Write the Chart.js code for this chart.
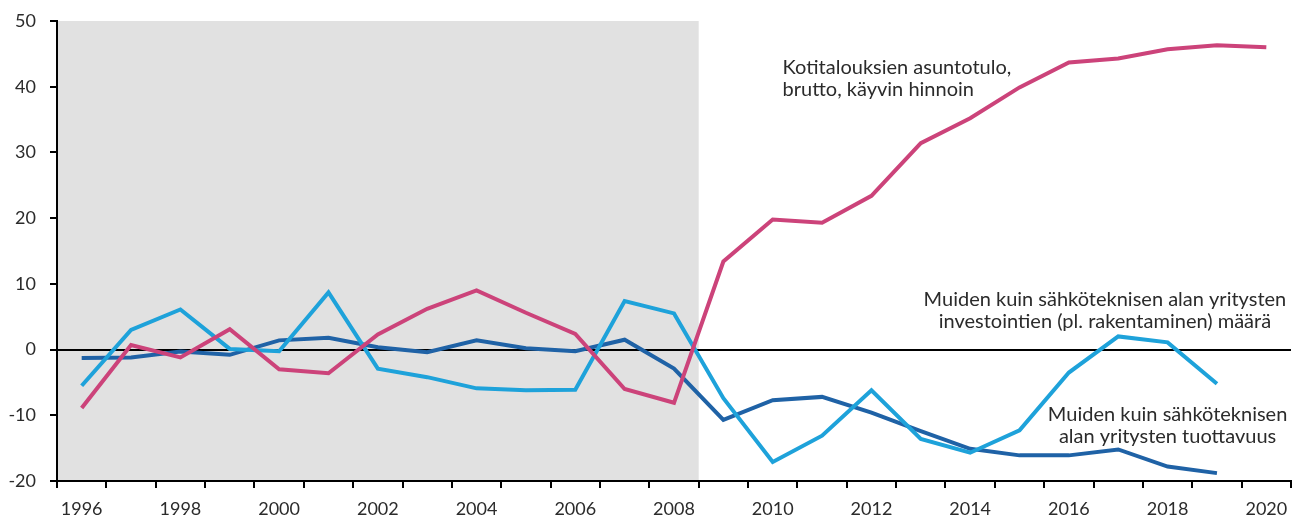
<!DOCTYPE html>
<html>
<head>
    <title>Tuottavuus, investoinnit ja asuntotulo</title>
    <script src="https://cdn.jsdelivr.net/npm/chart.js@4"></script>
    <style>
        html, body { margin: 0; padding: 0; background: #fff; }
        #wrap { width: 1306px; height: 518px; }
    </style>
</head>
<body>
<div id="wrap"><canvas id="lineChart" width="1306" height="518"></canvas></div>
<script>
    // Years on the x axis (one category per year)
    const years = ['1996', '1997', '1998', '1999', '2000', '2001', '2002', '2003', '2004', '2005', '2006', '2007', '2008',
        '2009', '2010', '2011', '2012', '2013', '2014', '2015', '2016', '2017', '2018', '2019', '2020'];

    // Kotitalouksien asuntotulo, brutto, käyvin hinnoin
    const housingIncome = [-8.9, 0.7, -1.2, 3.1, -3.0, -3.6, 2.3, 6.2, 9.0, 5.6, 2.4, -6.0, -8.1,
        13.4, 19.8, 19.3, 23.4, 31.4, 35.2, 39.9, 43.7, 44.3, 45.7, 46.3, 46.0];

    // Muiden kuin sähköteknisen alan yritysten investointien (pl. rakentaminen) määrä
    const investments = [-5.5, 3.0, 6.1, 0.1, -0.25, 8.7, -2.9, -4.2, -5.9, -6.2, -6.1, 7.4, 5.5,
        -7.4, -17.1, -13.1, -6.2, -13.6, -15.7, -12.3, -3.5, 2.0, 1.1, -5.2, null];

    // Muiden kuin sähköteknisen alan yritysten tuottavuus
    const productivity = [-1.3, -1.2, -0.3, -0.8, 1.4, 1.8, 0.35, -0.4, 1.4, 0.2, -0.25, 1.5, -2.9,
        -10.7, -7.7, -7.2, -9.6, -12.4, -15.1, -16.1, -16.1, -15.2, -17.8, -18.8, null];

    // Shaded period (through this year)
    const shadeUntil = '2008';

    // Text labels next to the lines: x is a category index, y a value on the y axis
    const notes = [
        { lines: ['Kotitalouksien asuntotulo,', 'brutto, käyvin hinnoin'], x: 14.2, y: 42.85, align: 'left' },
        { lines: ['Muiden kuin sähköteknisen alan yritysten', 'investointien (pl. rakentaminen) määrä'], x: 20.73, y: 7.55, align: 'center' },
        { lines: ['Muiden kuin sähköteknisen', 'alan yritysten tuottavuus'], x: 22.0, y: -9.95, align: 'center' },
    ];

    const FONT = 'Lato, "Open Sans", sans-serif';
    const TEXT = '#2b2b2b';

    // Grey background for the early period, drawn under everything
    const shadePlugin = {
        id: 'shade',
        beforeDraw(chart) {
            const { ctx, chartArea, scales } = chart;
            const x = scales.x;
            const idx = years.indexOf(shadeUntil);
            const right = (x.getPixelForValue(idx) + x.getPixelForValue(idx + 1)) / 2;
            ctx.save();
            ctx.fillStyle = '#e1e1e1';
            ctx.fillRect(chartArea.left, chartArea.top, right - chartArea.left, chartArea.bottom - chartArea.top);
            ctx.restore();
        }
    };

    // Series labels
    const notesPlugin = {
        id: 'notes',
        afterDatasetsDraw(chart) {
            const { ctx, scales } = chart;
            ctx.save();
            ctx.font = '20px ' + FONT;
            ctx.fillStyle = TEXT;
            ctx.textBaseline = 'middle';
            notes.forEach(n => {
                const px = scales.x.getPixelForValue(n.x);
                const py = scales.y.getPixelForValue(n.y);
                ctx.textAlign = n.align;
                n.lines.forEach((line, i) => ctx.fillText(line, px, py + i * 22));
            });
            ctx.restore();
        }
    };

    const ctx = document.getElementById('lineChart').getContext('2d');
    new Chart(ctx, {
        type: 'line',
        data: {
            labels: years,
            datasets: [
                { label: 'Asuntotulo', data: housingIncome, borderColor: '#cc437a' },
                { label: 'Investoinnit', data: investments, borderColor: '#1ea2da' },
                { label: 'Tuottavuus', data: productivity, borderColor: '#1f62a6' },
            ]
        },
        options: {
            animation: false,
            responsive: false,
            elements: {
                line: { borderWidth: 4, tension: 0, borderCapStyle: 'butt', borderJoinStyle: 'miter' },
                point: { radius: 0 }
            },
            layout: { padding: { top: 21, right: 15, left: 0, bottom: 0 } },
            plugins: {
                legend: { display: false },
                tooltip: { enabled: false }
            },
            scales: {
                x: {
                    type: 'category',
                    offset: true,
                    border: { color: '#000', width: 2 },
                    grid: {
                        offset: true,
                        drawOnChartArea: false,
                        drawTicks: true,
                        tickLength: 7,
                        tickColor: '#000',
                        lineWidth: 2
                    },
                    ticks: {
                        autoSkip: false,
                        maxRotation: 0,
                        padding: 10,
                        color: TEXT,
                        font: { family: FONT, size: 18 },
                        callback: function (value, index) {
                            return index % 2 === 0 ? this.getLabelForValue(value) : '';
                        }
                    },
                    afterFit(scale) { scale.height = 37; }
                },
                y: {
                    min: -20,
                    max: 50,
                    border: { color: '#000', width: 2 },
                    grid: {
                        drawTicks: true,
                        tickLength: 7,
                        tickColor: '#000',
                        color: c => c.tick && c.tick.value === 0 ? '#000' : 'rgba(0,0,0,0)',
                        lineWidth: 2
                    },
                    ticks: {
                        stepSize: 10,
                        padding: 14,
                        color: TEXT,
                        font: { family: FONT, size: 18 }
                    },
                    afterFit(scale) {
                        scale.width = 57;
                        scale.paddingTop = 0;
                        scale.paddingBottom = 0;
                    }
                }
            }
        },
        plugins: [shadePlugin, notesPlugin]
    });
</script>
</body>
</html>
